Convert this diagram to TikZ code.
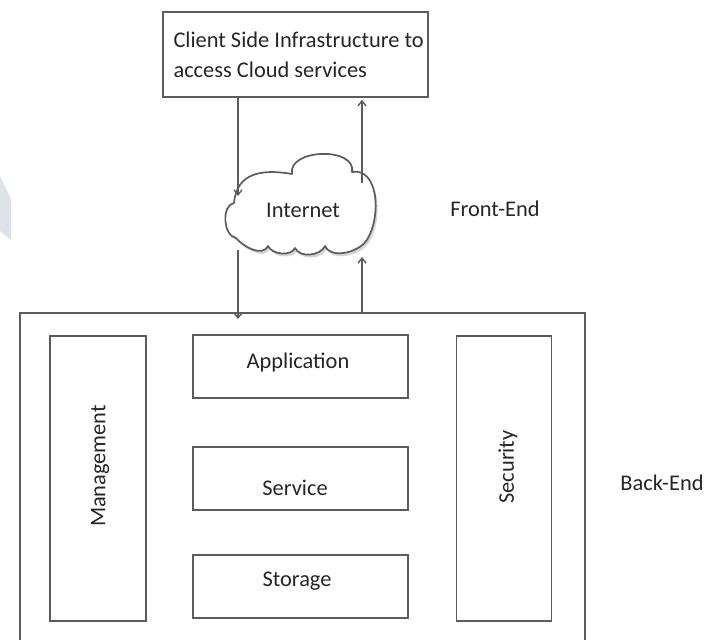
\documentclass[tikz,border=0pt]{standalone}
\usepackage{fontspec}
\setmainfont{Carlito}
\usetikzlibrary{arrows.meta}
\definecolor{linegray}{HTML}{5C5C5C}
\definecolor{textgray}{HTML}{262626}
\definecolor{edgetint}{HTML}{DDE3E8}
\tikzset{
  box/.style={draw=linegray, line width=1.6pt, fill=white, inner sep=0pt},
  lbl/.style={text=textgray, font=\fontsize{22.4}{30}\selectfont},
  arr/.style={draw=linegray, line width=1.4pt, -{Straight Barb[length=5pt,width=8pt]}},
}
% outline of the internet cloud, puff by puff
\newcommand{\cloudoutline}{%
  (234,203) to[out=85,in=170,looseness=1.2] (292,174)
  to[out=100,in=80,looseness=1.1] (352,172)
  to[out=10,in=60] (368,238)
  to[out=-115,in=-65,looseness=0.9] (325,246)
  to[out=-115,in=-65,looseness=0.95] (295,248)
  to[out=-115,in=-65,looseness=0.9] (268,246)
  to[out=-115,in=-50,looseness=0.95] (236,238)
  to[out=170,in=190,looseness=0.95] (234,203) -- cycle}
\begin{document}
\begin{tikzpicture}[x=1pt,y=-1pt]
\useasboundingbox (0,0) rectangle (705,640);
\fill[white] (0,0) rectangle (705,640);
% faint tint on the left edge
\fill[edgetint] (0,176) -- (11,199) -- (11,240) -- (0,231) -- cycle;

% client side
\node[box, minimum width=265pt, minimum height=85pt] (client) at (295.5,54.5) {};
\node[lbl, align=left, anchor=north west] (clienttxt) at (170,28)
  {Client Side Infrastructure to\\access Cloud services};

% internet cloud with a soft shadow
\begin{scope}[shift={(2,3)}]
  \fill[black, opacity=0.16] \cloudoutline;
\end{scope}
\filldraw[draw=linegray, fill=white, line width=1.7pt, line join=round] \cloudoutline;
\node (cloud) at (301,204) {};
\node[lbl] (nettxt) at (303,210) {Internet};
\node[lbl] (front) at (495,209) {Front-End};

% back end
\begin{scope}
\clip (0,0) rectangle (705,640);
\draw[linegray, line width=1.6pt] (20,660) -- (20,313) -- (585,313) -- (585,660);
\end{scope}
\coordinate (backtopL) at (238,313);
\coordinate (backtopR) at (362,313);
\node[box, minimum width=96pt, minimum height=285pt] (mgmt) at (98,478.5) {};
\node[lbl, rotate=90] (mgmttxt) at (100,466) {Management};
\node[box, minimum width=215pt, minimum height=63pt] (app) at (300.5,366.5) {};
\node[lbl] (apptxt) at (298,363) {Application};
\node[box, minimum width=215pt, minimum height=63pt] (svc) at (300.5,478.5) {};
\node[lbl] (svctxt) at (295,488) {Service};
\node[box, minimum width=215pt, minimum height=63pt] (sto) at (300.5,586.5) {};
\node[lbl] (stotxt) at (297,581) {Storage};
\node[box, minimum width=95pt, minimum height=285pt] (sec) at (504,478.5) {};
\node[lbl, rotate=90] (sectxt) at (508,467) {Security};
\node[lbl] (back) at (662,483) {Back-End};

% connectors
\coordinate (cloudinL) at (238,196);
\coordinate (cloudoutR) at (362,183);
\coordinate (cloudoutL) at (238,250);
\coordinate (cloudinR) at (362,257);
\draw[arr] (client.south -| cloudinL) -- (cloudinL);
\draw[arr] (cloudoutR) -- ([yshift=-2pt]client.south -| cloudoutR);
\draw[arr] (cloudoutL) -- ([yshift=-6pt]backtopL);
\draw[arr] (backtopR) -- (cloudinR);
\end{tikzpicture}
\end{document}
